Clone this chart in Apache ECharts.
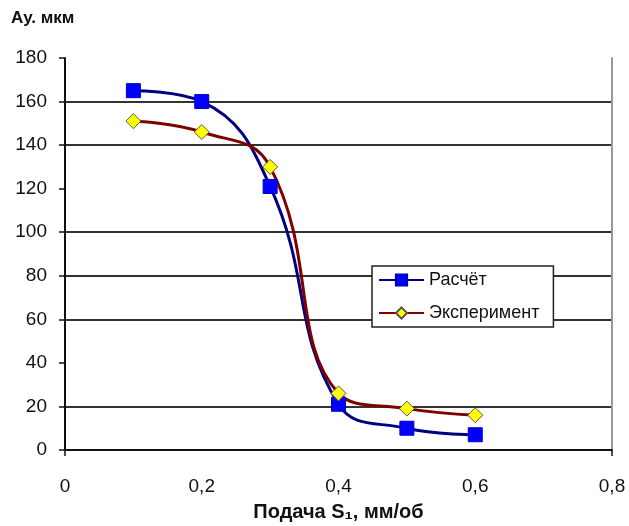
<!DOCTYPE html>
<html><head><meta charset="utf-8">
<script src="https://cdn.jsdelivr.net/npm/echarts@6/dist/echarts.min.js"></script>
<style>html,body{margin:0;padding:0;background:#fff}#c{width:629px;height:526px}</style>
</head><body><div id="c"></div>
<script>
const feed = [0.1, 0.2, 0.3, 0.4, 0.5, 0.6];
const calc = [165, 160, 121, 21, 10, 7];
const expt = [151, 146, 130, 26, 19, 16];
const seriesNames = ['Расчёт', 'Эксперимент'];
const yTitle = 'Ау. мкм';
const xTitle = 'Подача S₁, мм/об';
const xTickValues = [0, 0.8];
// visible horizontal gridlines (0..180 by 20)
const gridColors = ['transparent','#333','transparent','#333','#333','#333','transparent','#333','#333','transparent'];

const font = 'Liberation Sans, Arial, sans-serif';
const chart = echarts.init(document.getElementById('c'));
chart.setOption({
  animation: false,
  backgroundColor: '#fff',
  grid: { left: 65, right: 17, top: 58, bottom: 76, containLabel: false, outerBoundsMode: 'none' },
  graphic: [
    { type: 'text', left: 11, top: 10, style: { text: yTitle, font: 'bold 17px ' + font, fill: '#111' } }
  ],
  legend: {
    orient: 'vertical',
    left: 372, top: 266,
    padding: [5, 14, 5, 6],
    itemGap: 15,
    itemWidth: 45, itemHeight: 14,
    backgroundColor: '#fff',
    borderColor: '#222', borderWidth: 1.5, borderRadius: 0,
    textStyle: { fontFamily: font, fontSize: 18, color: '#111' },
    data: seriesNames
  },
  xAxis: {
    type: 'value', min: 0, max: 0.8, interval: 0.2,
    name: xTitle, nameLocation: 'middle', nameGap: 52,
    nameTextStyle: { fontFamily: font, fontSize: 20, fontWeight: 'bold', color: '#111' },
    axisLine: { show: true, onZero: false, lineStyle: { color: '#111', width: 2 } },
    axisTick: { show: true, length: 6, customValues: xTickValues, lineStyle: { color: '#111', width: 1.5 } },
    axisLabel: { fontFamily: font, fontSize: 19, color: '#111', margin: 27,
      formatter: v => String(Math.round(v * 10) / 10).replace('.', ',') },
    splitLine: { show: false }
  },
  yAxis: [{
    type: 'value', min: 0, max: 180, interval: 20,
    axisLine: { show: true, lineStyle: { color: '#111', width: 2 } },
    axisTick: { show: true, length: 6, lineStyle: { color: '#111', width: 1.5 } },
    axisLabel: { fontFamily: font, fontSize: 19, color: '#111', margin: 18 },
    splitLine: { show: true, lineStyle: { color: gridColors, width: 2 } }
  }, {
    type: 'value', min: 0, max: 180, interval: 20, position: 'right',
    axisLine: { show: true, lineStyle: { color: '#999', width: 2 } },
    axisTick: { show: false }, axisLabel: { show: false }, splitLine: { show: false }
  }],
  series: [{
    name: seriesNames[0], type: 'line', smooth: 0.45,
    data: feed.map((x, i) => [x, calc[i]]),
    symbol: 'rect', symbolSize: 14,
    lineStyle: { color: '#000080', width: 3 },
    itemStyle: { color: '#0000ff', borderColor: '#0000cc', borderWidth: 1 }
  }, {
    name: seriesNames[1], type: 'line', smooth: 0.45,
    data: feed.map((x, i) => [x, expt[i]]),
    symbol: 'diamond', symbolSize: 15,
    lineStyle: { color: '#800000', width: 3 },
    itemStyle: { color: '#ffff00', borderColor: '#555', borderWidth: 1 }
  }]
});
</script></body></html>
